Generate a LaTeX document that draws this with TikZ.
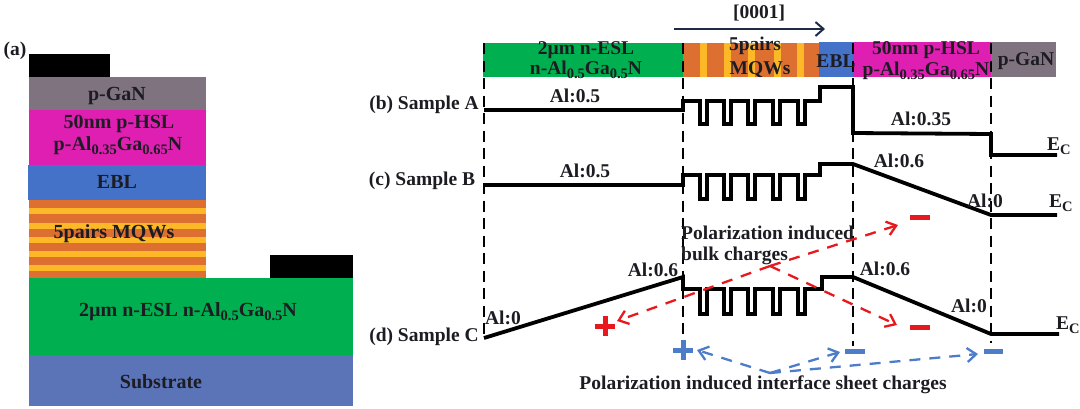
\documentclass[tikz,border=0pt]{standalone}
\usepackage{fontspec}
\setmainfont{Liberation Serif}
\usetikzlibrary{arrows.meta}
\definecolor{cgan}{HTML}{7F7380}
\definecolor{chsl}{HTML}{DF1FB2}
\definecolor{cebl}{HTML}{4472C8}
\definecolor{corg}{HTML}{DD7030}
\definecolor{cyel}{HTML}{FDB827}
\definecolor{cesl}{HTML}{00B050}
\definecolor{csub}{HTML}{5B73B7}
\definecolor{ctxt}{HTML}{1C1C22}
\definecolor{cnavy}{HTML}{1F2A44}
\definecolor{cred}{HTML}{E8191E}
\definecolor{cblue}{HTML}{4D7CC8}
\newcommand{\sbs}[1]{\raisebox{-0.45ex}{\fontsize{14.5}{14.5}\selectfont #1}}
\newcommand{\wells}[2]{-- (700,#1) -- (700,#2) -- (707,#2) -- (707,#1) -- (724,#1) -- (724,#2) -- (731,#2) -- (731,#1) -- (748,#1) -- (748,#2) -- (755,#2) -- (755,#1) -- (773,#1) -- (773,#2) -- (780,#2) -- (780,#1) -- (798,#1) -- (798,#2) -- (805,#2) -- (805,#1)}
\tikzset{
  x=1pt,y=-1pt,
  lbl/.style={inner sep=0pt,text=ctxt,font=\fontsize{19.5}{21}\selectfont\bfseries,align=center},
  stacklbl/.style={lbl,font=\fontsize{20}{21}\selectfont\bfseries},
  band/.style={line width=3.8pt,black,line join=miter},
  guide/.style={line width=2.6pt,black,dash pattern=on 11pt off 6.5pt},
  redarrow/.style={line width=2.3pt,cred,dash pattern=on 11pt off 9pt,-{Straight Barb[length=9pt,width=14pt,line width=2.3pt]}},
  bluearrow/.style={line width=2.3pt,cblue,dash pattern=on 11pt off 9pt,-{Straight Barb[length=9pt,width=14pt,line width=2.3pt]}},
}
\begin{document}
\begin{tikzpicture}
\useasboundingbox (0,0) rectangle (1080,408);
% --- (a) layer stack
\fill[black] (29,54) rectangle (110,77);
\fill[cgan] (29,77) rectangle (206,110);
\fill[chsl] (29,110) rectangle (206,165);
\fill[cebl] (28,165) rectangle (206,200);
\fill[corg] (29,200) rectangle (206,278);
\foreach \y in {208,222.5,237,251,265}{\fill[cyel] (29,\y) rectangle (206,\y+6);}
\fill[cesl] (29,278) rectangle (353,355);
\fill[black] (270,255) rectangle (353,278);
\fill[csub] (29,355) rectangle (353,406);
\node[lbl] (la) at (15,51) {(a)};
\node[stacklbl] (s1) at (117,96) {p-GaN};
\node[stacklbl] (s2) at (119,124) {50nm p-HSL};
\node[stacklbl] (s3) at (118,146) {p-Al\sbs{0.35}Ga\sbs{0.65}N};
\node[stacklbl] (s4) at (117,182) {EBL};
\node[stacklbl] (s5) at (114,234) {5pairs MQWs};
\node[stacklbl] (s6) at (188,312) {2µm n-ESL n-Al\sbs{0.5}Ga\sbs{0.5}N};
\node[stacklbl] (s7) at (161,382) {Substrate};
% --- top band
\fill[cesl] (483,43) rectangle (683,77);
\fill[corg] (683,43) rectangle (819,77);
\foreach \x in {700,724,748,774,797}{\fill[cyel] (\x,43) rectangle (\x+6.5,77);}
\fill[cebl] (819,42) rectangle (853,77);
\fill[chsl] (853,42) rectangle (991,77);
\fill[cgan] (991,42) rectangle (1056,77);
% --- guides
\foreach \x/\e in {484/340,683/347,853/346,991/343}{\draw[guide] (\x,43) -- (\x,\e);}
% --- growth direction
\coordinate (g0) at (674,29);
\coordinate (g1) at (825,29);
\draw[line width=2pt,cnavy,-{Straight Barb[length=8pt,width=14pt,line width=2pt]}] (g0) -- (g1);
\node[lbl] (dir) at (759,13) {[0001]};
% --- band labels
\node[lbl] (b1) at (586,50) {2µm n-ESL};
\node[lbl] (b2) at (586,70) {n-Al\sbs{0.5}Ga\sbs{0.5}N};
\node[lbl] (b3) at (755,46) {5pairs};
\node[lbl] (b4) at (760,70) {MQWs};
\node[lbl] (b5) at (836,61) {EBL};
\node[lbl] (b6) at (926,50) {50nm p-HSL};
\node[lbl] (b7) at (926,71) {p-Al\sbs{0.35}Ga\sbs{0.65}N};
\node[lbl] (b8) at (1026,61) {p-GaN};
% --- sample labels
\node[lbl] (sa) at (424,105) {(b) Sample A};
\node[lbl] (sb) at (422,181) {(c) Sample B};
\node[lbl] (sc) at (424,337) {(d) Sample C};
% --- conduction bands
\draw[band] (484,110) -- (683,110) -- (683,101) \wells{101}{124} -- (820,101) -- (820,87) -- (853,87) -- (853,133) -- (991,134) -- (991,155) -- (1057,155);
\draw[band] (484,185) -- (683,185) -- (683,175) \wells{175}{199} -- (820,175) -- (820,164) -- (853,164) -- (991,215) -- (1057,215);
\draw[band] (484,338) -- (683,277) -- (683,289) \wells{289}{314} -- (822,289) -- (822,277) -- (853,277) -- (991,334) -- (1059,334);
% --- Al labels
\node[lbl] (al1) at (575,96) {Al:0.5};
\node[lbl] (al2) at (585,171) {Al:0.5};
\node[lbl] (al3) at (921,119) {Al:0.35};
\node[lbl] (al4) at (899,161) {Al:0.6};
\node[lbl] (al5) at (985,201) {Al:0};
\node[lbl] (al6) at (503,318) {Al:0};
\node[lbl] (al7) at (653,270) {Al:0.6};
\node[lbl] (al8) at (885,269) {Al:0.6};
\node[lbl] (al9) at (969,306) {Al:0};
\node[lbl,anchor=west] (ec1) at (1047,146) {E\sbs{C}};
\node[lbl,anchor=west] (ec2) at (1049,203) {E\sbs{C}};
\node[lbl,anchor=west] (ec3) at (1056,325) {E\sbs{C}};
% --- polarization labels
\node[lbl,anchor=west] (pb1) at (681,233) {Polarization induced};
\node[lbl,anchor=west] (pb2) at (681,256) {bulk charges};
\node[lbl] (ps) at (763,385) {Polarization induced interface sheet charges};
% --- charges
\fill[cred] (910,215) rectangle (930,219.5);
\fill[cred] (910,325) rectangle (930,329.5);
\fill[cred] (595,324) rectangle (615,328.5);
\fill[cred] (603,316) rectangle (607.5,336);
\fill[cblue] (673,348) rectangle (693,352.5);
\fill[cblue] (681,340) rectangle (685.5,360);
\fill[cblue] (845,349) rectangle (865,353.5);
\fill[cblue] (984,349) rectangle (1003,353.5);
% --- polarization arrows
\coordinate (rc) at (770,266);
\coordinate (r1) at (898,225);
\coordinate (r2) at (897,325);
\coordinate (r3) at (617,321);
\draw[redarrow] (rc) -- (r1);
\draw[redarrow] (rc) -- (r2);
\draw[redarrow] (rc) -- (r3);
\coordinate (bc) at (770,373);
\coordinate (b1e) at (697,350);
\coordinate (b2e) at (840,352);
\coordinate (b3e) at (978,354);
\draw[bluearrow] (bc) -- (b1e);
\draw[bluearrow] (bc) -- (b2e);
\draw[bluearrow] (bc) -- (b3e);
\end{tikzpicture}
\end{document}
